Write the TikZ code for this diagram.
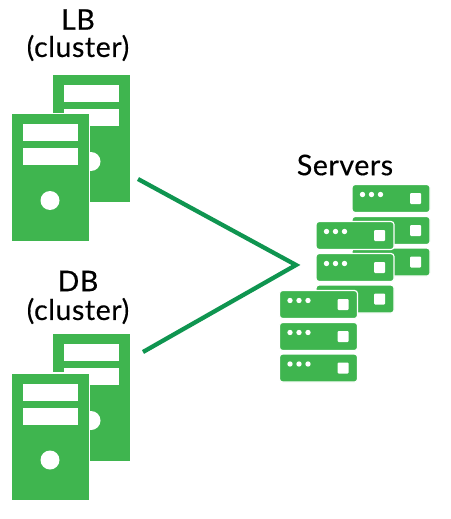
\documentclass[tikz,border=0pt]{standalone}
\usepackage{fontspec}
\setmainfont[FakeBold=0.4,LetterSpace=2]{Lato}
\definecolor{boxgreen}{HTML}{3FB54F}
\definecolor{linegreen}{HTML}{0F9550}
\tikzset{
  x=1pt,y=-1pt,
  lbl/.style={font=\fontsize{28.5}{30}\selectfont,text=black,inner sep=0pt,anchor=center},
  link/.style={draw=linegreen,line width=4.3pt,line join=miter},
  pics/tower/.style={code={
    \fill[boxgreen,draw=white,line width=1.2pt] (0,0) rectangle (78,128);
    \fill[white] (11,10.5) rectangle (66,27.5);
    \fill[white] (11,34.5) rectangle (66,51.5);
    \fill[white] (38.5,87) circle (9.5);
  }},
  pics/rackunit/.style={code={
    \fill[boxgreen,draw=white,line width=1.2pt,rounded corners=3pt] (0,0) rectangle (78,28);
    \fill[white] (10.5,10) circle (2.7);
    \fill[white] (19.5,10) circle (2.7);
    \fill[white] (28.5,10) circle (2.7);
    \fill[white,rounded corners=1pt] (58,8.5) rectangle (69,19.5);
  }}
}
\begin{document}
\begin{tikzpicture}
\useasboundingbox (0,0) rectangle (450,519);
\pic at (52.5,74.5) {tower};
\pic at (11.5,113.5) {tower};
\pic at (52.5,333.5) {tower};
\pic at (11.5,373) {tower};
\pic at (352,184.5) {rackunit};
\pic at (352,216.5) {rackunit};
\pic at (352,248) {rackunit};
\pic at (316,285) {rackunit};
\pic at (316,253.5) {rackunit};
\pic at (316,221.5) {rackunit};
\pic at (279.5,290.5) {rackunit};
\pic at (279.5,322.5) {rackunit};
\pic at (279.5,354) {rackunit};
\node[lbl] (lb) at (78,19.5) {LB};
\node[lbl] (lbc) at (78,48) {(cluster)};
\node[lbl] (db) at (78,281) {DB};
\node[lbl] (dbc) at (78,311) {(cluster)};
\node[lbl] (srv) at (345,165) {Servers};
\coordinate (a) at (138,179);
\coordinate (b) at (296,265);
\coordinate (c) at (143,352);
\draw[link] (a) -- (b) -- (c);
\end{tikzpicture}
\end{document}
